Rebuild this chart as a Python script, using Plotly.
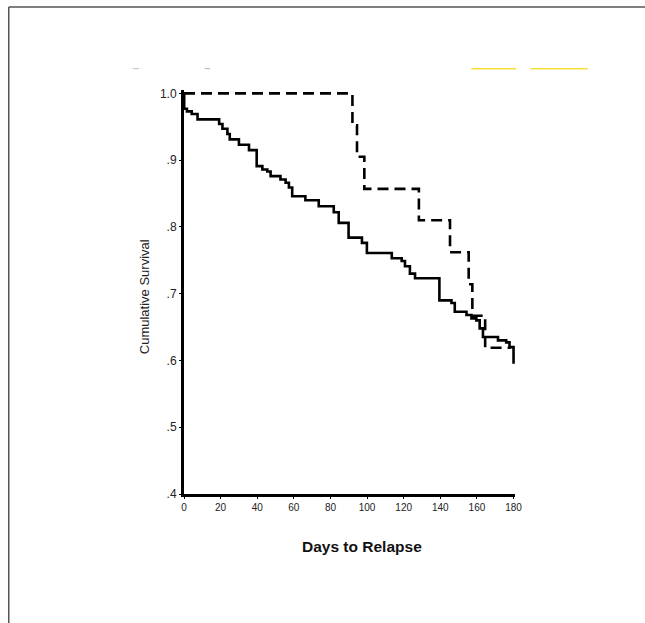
import plotly.graph_objects as go

# Solid curve (group 1): step times (days) and cumulative survival
solid_days = [0, 0.1, 1.6, 4.2, 7.4, 19.2, 21.0, 23.7, 25.0, 30.0, 35.5, 39.7, 42.8, 45.5,
              47.3, 52.7, 55.5, 57.3, 59.1, 66.3, 73.6, 81.8, 84.5, 89.9, 97.2, 99.9,
              113.5, 118.9, 120.7, 123.4, 126.2, 139.5, 146.1, 147.9, 154.3, 157.0,
              159.7, 161.5, 163.3, 171.5, 176.0, 177.8, 180.0, 180.0]
solid_surv = [1.0, 0.977, 0.973, 0.969, 0.961, 0.954, 0.947, 0.939, 0.931, 0.923, 0.915,
              0.891, 0.886, 0.883, 0.876, 0.871, 0.866, 0.859, 0.846, 0.840, 0.831, 0.822,
              0.806, 0.784, 0.776, 0.761, 0.753, 0.749, 0.741, 0.730, 0.723, 0.690, 0.686,
              0.673, 0.668, 0.663, 0.660, 0.648, 0.635, 0.630, 0.627, 0.620, 0.620, 0.595]

# Dashed curve (group 2)
dash_days = [0, 92.0, 94.5, 98.5, 128.3, 145.3, 155.5, 157.5, 164.5, 178.5]
dash_surv = [1.0, 0.952, 0.905, 0.857, 0.810, 0.762, 0.714, 0.667, 0.619, 0.619]

x_ticks = [0, 20, 40, 60, 80, 100, 120, 140, 160, 180]
y_ticks = [0.4, 0.5, 0.6, 0.7, 0.8, 0.9, 1.0]
y_tick_text = [".4", ".5", ".6", ".7", ".8", ".9", "1.0"]

FONT = "Arial, Liberation Sans, sans-serif"

fig = go.Figure()
fig.add_trace(go.Scatter(x=solid_days, y=solid_surv, mode="lines",
                         line=dict(color="black", width=2.6, shape="hv"),
                         showlegend=False, hoverinfo="skip"))
fig.add_trace(go.Scatter(x=dash_days, y=dash_surv, mode="lines",
                         line=dict(color="black", width=2.6, shape="hv", dash="11px,6px"),
                         showlegend=False, hoverinfo="skip"))

W, H = 645, 623
X_RANGE = [0, 180.8]
Y_RANGE = [0.4, 1.005]
# pixel geometry: x=0 at 184px, x=180 at 514px; y=0.4 at 494px, y=1.0 at 93px
L, B = 184, 129
pw = 330 * (X_RANGE[1] - X_RANGE[0]) / 180
ph = 401 * (Y_RANGE[1] - Y_RANGE[0]) / 0.6
R = W - L - pw
T = H - B - ph

def px(x):
    return (x - L) / pw

def py(y):
    return (H - B - y) / ph

shapes = [
    # outer frame (top and left edges visible)
    dict(type="line", xref="paper", yref="paper", x0=px(8.5), x1=px(W + 5), y0=py(6.5), y1=py(6.5),
         line=dict(color="#555555", width=1.5)),
    dict(type="line", xref="paper", yref="paper", x0=px(8.5), x1=px(8.5), y0=py(6.5), y1=py(H + 5),
         line=dict(color="#555555", width=1.5)),
    # faint legend remnants
    dict(type="line", xref="paper", yref="paper", x0=px(471.7), x1=px(516.7), y0=py(68.3), y1=py(68.3),
         line=dict(color="#F7E03A", width=1.5)),
    dict(type="line", xref="paper", yref="paper", x0=px(531), x1=px(588.3), y0=py(68.3), y1=py(68.3),
         line=dict(color="#F7E03A", width=1.5)),
    dict(type="line", xref="paper", yref="paper", x0=px(132.7), x1=px(139), y0=py(68.3), y1=py(68.3),
         line=dict(color="#C8B8C8", width=1)),
    dict(type="line", xref="paper", yref="paper", x0=px(204.7), x1=px(210.3), y0=py(68.3), y1=py(68.3),
         line=dict(color="#C0A8D0", width=1)),
]

annotations = [
    dict(text="Cumulative Survival", xref="paper", yref="paper", x=px(144), y=py(297),
         textangle=-90, showarrow=False, font=dict(family=FONT, size=13, color="#222222"),
         xanchor="center", yanchor="middle"),
    dict(text="<b>Days to Relapse</b>", xref="paper", yref="paper", x=px(362), y=py(547),
         showarrow=False, font=dict(family=FONT, size=15.5, color="#111111"),
         xanchor="center", yanchor="middle"),
]

fig.update_layout(
    width=W, height=H,
    margin=dict(l=L, r=R, t=T, b=B, pad=0),
    paper_bgcolor="white", plot_bgcolor="white",
    shapes=shapes, annotations=annotations,
    xaxis=dict(range=X_RANGE, tickvals=x_ticks, ticktext=[str(v) for v in x_ticks],
               showgrid=False, zeroline=False, showline=True, linecolor="black", linewidth=3,
               ticks="outside", ticklen=2, tickwidth=1, tickcolor="black",
               tickfont=dict(family=FONT, size=10, color="#222222")),
    yaxis=dict(range=Y_RANGE, tickvals=y_ticks, ticktext=y_tick_text,
               showgrid=False, zeroline=False, showline=True, linecolor="black", linewidth=3,
               ticks="outside", ticklen=2, tickwidth=1, tickcolor="black",
               tickfont=dict(family=FONT, size=12, color="#222222")),
)

fig.write_html("out.html")
